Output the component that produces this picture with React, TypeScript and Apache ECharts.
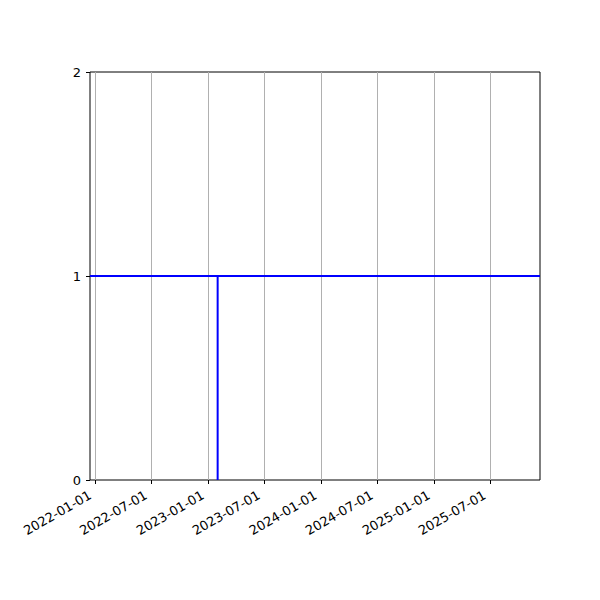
import { useEffect, useRef } from 'react';
import * as echarts from 'echarts';

// axis limits (dates)
const xRange = ['2021-12-15', '2025-12-10'];
const tickDates = [
    '2022-01-01', '2022-07-01', '2023-01-01', '2023-07-01',
    '2024-01-01', '2024-07-01', '2025-01-01', '2025-07-01',
];
const yTicks = [0, 1, 2];

// horizontal level line
const levelDates = ['2021-12-15', '2025-12-10'];
const levelValues = [1, 1];

// vertical step line
const stepDates = ['2023-02-01', '2023-02-01'];
const stepValues = [0, 1];

const toTs = (s: string) => {
    const [y, m, d] = s.split('-').map(Number);
    return Date.UTC(y, m - 1, d);
};
const pad = (n: number) => (n < 10 ? '0' + n : '' + n);
const fmt = (v: number) => {
    const d = new Date(v);
    return d.getUTCFullYear() + '-' + pad(d.getUTCMonth() + 1) + '-' + pad(d.getUTCDate());
};

export default function App() {
    const chartRef = useRef<HTMLDivElement>(null);

    useEffect(() => {
        document.body.style.margin = '0';
        if (!chartRef.current) return;
        const chart = echarts.init(chartRef.current, null, { renderer: 'svg' });

        const option = {
            animation: false,
            backgroundColor: '#ffffff',
            textStyle: { fontFamily: 'DejaVu Sans' },
            grid: {
                left: 90,
                right: 60,
                top: 72,
                bottom: 120,
                show: true,
                borderColor: '#000000',
                borderWidth: 1,
                backgroundColor: 'transparent',
            },
            xAxis: {
                type: 'value',
                min: toTs(xRange[0]),
                max: toTs(xRange[1]),
                axisLine: { show: false, onZero: false },
                axisTick: {
                    show: true,
                    length: 4,
                    lineStyle: { color: '#000', width: 1 },
                    customValues: tickDates.map(toTs),
                },
                axisLabel: {
                    color: '#000',
                    fontSize: 13,
                    rotate: 30,
                    margin: 11,
                    padding: [0, 6, 0, 0],
                    customValues: tickDates.map(toTs),
                    formatter: (v: number) => fmt(v),
                },
                splitLine: { show: true, lineStyle: { color: '#b0b0b0', width: 1 } },
            },
            yAxis: {
                type: 'value',
                min: yTicks[0],
                max: yTicks[yTicks.length - 1],
                interval: 1,
                axisLine: { show: false },
                axisTick: { show: true, length: 4, lineStyle: { color: '#000', width: 1 } },
                axisLabel: { color: '#000', fontSize: 13, margin: 9 },
                splitLine: { show: false },
            },
            series: [
                {
                    type: 'line',
                    data: levelDates.map((d, i) => [toTs(d), levelValues[i]]),
                    symbol: 'none',
                    lineStyle: { color: '#0000ff', width: 2 },
                    z: 5,
                },
                {
                    type: 'line',
                    data: stepDates.map((d, i) => [toTs(d), stepValues[i]]),
                    symbol: 'none',
                    lineStyle: { color: '#0000ff', width: 2 },
                    z: 5,
                },
            ],
        };

        chart.setOption(option);
        return () => {
            chart.dispose();
        };
    }, []);

    return <div ref={chartRef} style={{ width: '600px', height: '600px' }} />;
}
